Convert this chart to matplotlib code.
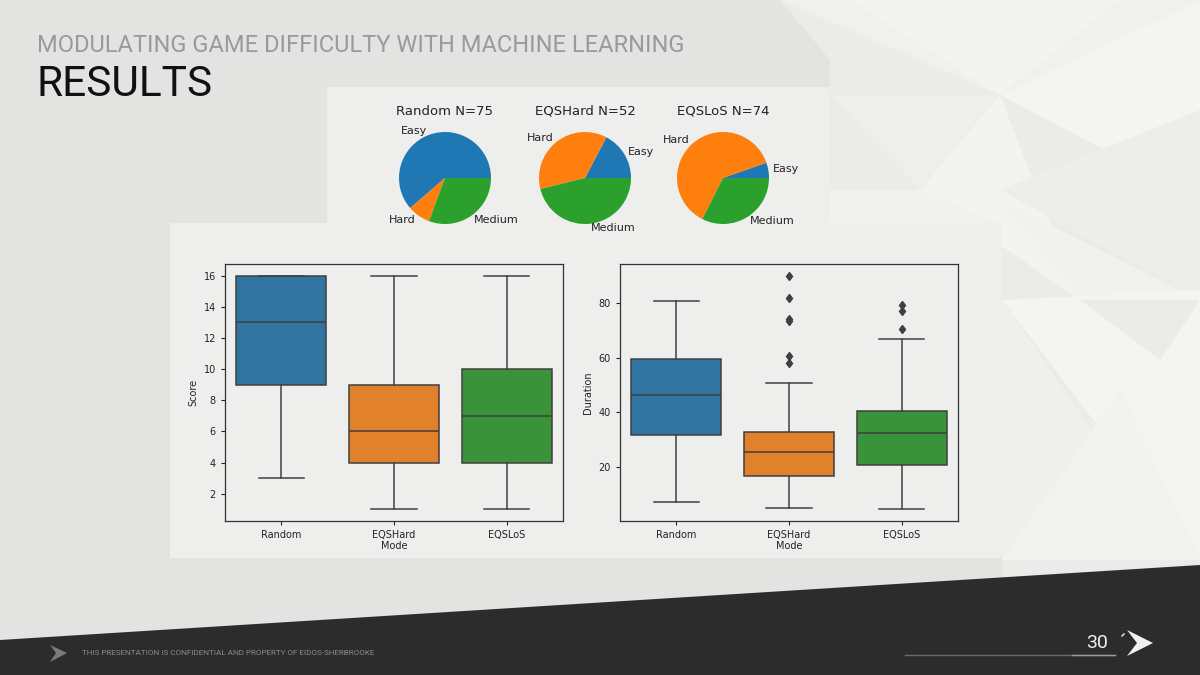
import numpy as np
import matplotlib
matplotlib.use("Agg")
import matplotlib.pyplot as plt
from matplotlib.patches import Polygon, Rectangle

# ---- data ----
modes = ["Random", "EQSHard", "EQSLoS"]
pie_labels = ["Easy", "Hard", "Medium"]
counts_random = [46, 6, 23]
counts_eqshard = [9, 19, 24]
counts_eqslos = [4, 46, 24]

# score boxes: whislo, q1, med, q3, whishi
score_lo = [3, 1, 1]
score_q1 = [9, 4, 4]
score_med = [13, 6, 7]
score_q3 = [16, 9, 10]
score_hi = [16, 16, 16]

dur_lo = [7.3, 5.2, 4.6]
dur_q1 = [31.8, 16.8, 20.8]
dur_med = [46.3, 25.5, 32.4]
dur_q3 = [59.5, 32.8, 40.7]
dur_hi = [80.6, 50.9, 66.9]
dur_fliers = [[], [58.2, 60.8, 73.6, 74.3, 81.8, 89.9], [70.5, 77.2, 79.3]]

pie_colors = ["#1f77b4", "#ff7f0e", "#2ca02c"]
box_colors = ["#3274a1", "#e1812c", "#3a923a"]
edge = "#3f3f3f"

W, H = 1200, 675
fig = plt.figure(figsize=(12, 6.75), dpi=100)
fig.patch.set_facecolor("#e3e4e2")


def px_axes(x0, y0, x1, y1):
    # pixel box (top-left origin) -> figure fraction axes
    return fig.add_axes([x0 / W, 1 - y1 / H, (x1 - x0) / W, (y1 - y0) / H])


# background layer
bg = fig.add_axes([0, 0, 1, 1])
bg.set_xlim(0, W)
bg.set_ylim(H, 0)
bg.axis("off")

# lighter right side with a soft triangle pattern
bg.add_patch(Polygon([(780, 0), (1200, 0), (1200, 600), (1002, 600), (1002, 223),
                      (830, 223), (830, 60)],
                     closed=True, facecolor="#ebebea", edgecolor="none"))
tris = [
    ([(780, 0), (1200, 0), (1000, 95)], "#f0f0ef"),
    ([(850, 0), (1000, 95), (1120, 0)], "#f3f3f2"),
    ([(1000, 95), (1200, 200), (1200, 0)], "#f4f4f3"),
    ([(830, 95), (1000, 95), (920, 190)], "#eeeeed"),
    ([(1000, 95), (920, 190), (1080, 300)], "#f3f3f2"),
    ([(1000, 190), (1200, 110), (1200, 300)], "#ededec"),
    ([(1000, 200), (1200, 300), (1080, 300)], "#f1f1f0"),
    ([(1002, 300), (1200, 290), (1200, 560)], "#f4f4f3"),
    ([(1002, 300), (1120, 470), (1002, 560)], "#efefee"),
    ([(1002, 560), (1120, 390), (1200, 560)], "#f2f2f1"),
    ([(1080, 300), (1200, 300), (1160, 360)], "#ebebea"),
    ([(830, 190), (920, 190), (1000, 223), (830, 223)], "#f1f1f0"),
]
for pts, c in tris:
    bg.add_patch(Polygon(pts, closed=True, facecolor=c, edgecolor="none"))

# dark footer band
bg.add_patch(Polygon([(0, 640), (1200, 565), (1200, 675), (0, 675)],
                     closed=True, facecolor="#2b2c2b", edgecolor="none"))

# chart panels
bg.add_patch(Rectangle((327, 87), 503, 140, facecolor="#eeefed", edgecolor="none"))
bg.add_patch(Rectangle((170, 223), 832, 335, facecolor="#eeefed", edgecolor="none"))

# slide titles
bg.text(37, 45, "MODULATING GAME DIFFICULTY WITH MACHINE LEARNING",
        fontsize=17, color="#9a9a9a", family="Roboto",
        va="center", ha="left")
bg.text(36, 84, "RESULTS", fontsize=30.5, color="#111111", family="Roboto",
        va="center", ha="left")

# footer texts and logo shapes
bg.text(82, 653, "THIS PRESENTATION IS CONFIDENTIAL AND PROPERTY OF EIDOS-SHERBROOKE",
        fontsize=5.9, color="#8a8a8a", family="Roboto", va="center", ha="left",
        fontstretch="condensed")
bg.add_patch(Polygon([(50, 645), (67, 653), (50, 662), (56, 653)], closed=True,
                     facecolor="#7a7a7a", edgecolor="none"))
bg.text(1108, 643, "30", fontsize=14, color="#f0f0f0", family="Roboto",
        va="center", ha="right")
bg.plot([905, 1115], [655, 655], color="#6a6a6a", lw=1)
bg.plot([1072, 1115], [655, 655], color="#9a9a9a", lw=1)
bg.add_patch(Polygon([(1127, 630), (1153, 643), (1127, 656), (1137, 643)],
                     closed=True, facecolor="#f0f0f0", edgecolor="none"))
bg.plot([1122, 1124], [636, 634], color="#f0f0f0", lw=1)

# ---- pies ----
pie_data = [counts_random, counts_eqshard, counts_eqslos]
pie_cx = [445, 585, 723]
for cx, counts, mode in zip(pie_cx, pie_data, modes):
    r = 46
    ax = px_axes(cx - 1.25 * r, 178 - 1.25 * r, cx + 1.25 * r, 178 + 1.25 * r)
    ax.pie(counts, labels=pie_labels, colors=pie_colors,
           textprops={"fontsize": 8, "color": "#222222"})
    ax.set_title(f"{mode} N={sum(counts)}", fontsize=9.5, pad=4, color="#222222")

# ---- boxes ----


def draw_boxes(ax, lo, q1, med, q3, hi, fliers, ylabel, yticks):
    stats = []
    for i in range(len(modes)):
        stats.append({"whislo": lo[i], "q1": q1[i], "med": med[i], "q3": q3[i],
                      "whishi": hi[i], "fliers": fliers[i], "label": modes[i]})
    b = ax.bxp(stats, positions=range(len(modes)), widths=0.8, patch_artist=True,
               showfliers=True,
               boxprops={"edgecolor": edge, "linewidth": 1.1},
               medianprops={"color": edge, "linewidth": 1.1},
               whiskerprops={"color": edge, "linewidth": 1.1},
               capprops={"color": edge, "linewidth": 1.1},
               flierprops={"marker": "d", "markerfacecolor": edge,
                           "markeredgecolor": edge, "markersize": 4.5})
    for patch, c in zip(b["boxes"], box_colors):
        patch.set_facecolor(c)
    ax.set_facecolor("#eeefed")
    ax.set_xlim(-0.5, 2.5)
    ax.set_yticks(yticks)
    ax.tick_params(labelsize=7, colors="#222222", length=3, width=0.8)
    ax.set_xlabel("Mode", fontsize=7, labelpad=1, color="#222222")
    ax.set_ylabel(ylabel, fontsize=7, color="#222222")
    for s in ax.spines.values():
        s.set_color("#333333")
        s.set_linewidth(0.9)


ax1 = px_axes(225, 264, 563, 521)
draw_boxes(ax1, score_lo, score_q1, score_med, score_q3, score_hi,
           [[], [], []], "Score", [2, 4, 6, 8, 10, 12, 14, 16])
ax1.set_ylim(0.25, 16.75)

ax2 = px_axes(620, 264, 958, 521)
draw_boxes(ax2, dur_lo, dur_q1, dur_med, dur_q3, dur_hi,
           dur_fliers, "Duration", [20, 40, 60, 80])
ax2.set_ylim(0.3, 94.3)

fig.savefig("out.png", dpi=100, facecolor=fig.get_facecolor())
